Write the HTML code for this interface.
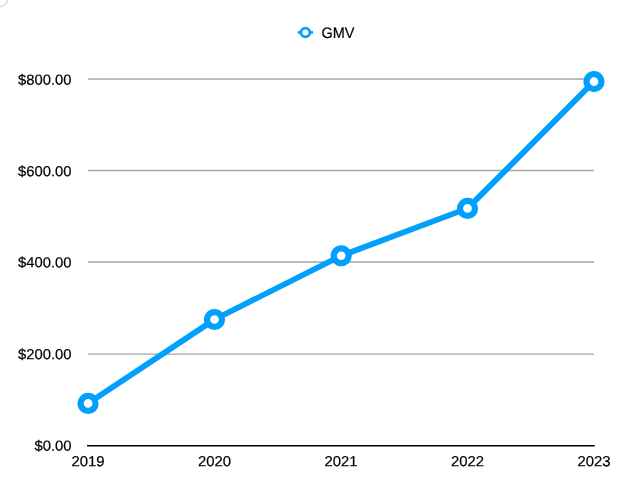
<!DOCTYPE html>
<html>
<head>
<meta charset="utf-8">
<title>GMV</title>
<style>
html,body{margin:0;padding:0;background:#fff;}
body{width:640px;height:495px;overflow:hidden;}
svg{display:block;}
text{font-family:"Liberation Sans",Arial,Helvetica,sans-serif;fill:#000;text-rendering:geometricPrecision;}
</style>
</head>
<body>
<svg width="640" height="495" viewBox="0 0 640 495">
  <rect width="640" height="495" fill="#fff"/>
  <circle cx="-0.9" cy="-1.7" r="8.65" fill="none" stroke="#d2d2d2" stroke-width="1.2"/>
  <!-- gridlines -->
  <g stroke="#a6a6a6" stroke-width="1.4">
    <line x1="88" y1="79" x2="594" y2="79"/>
    <line x1="88" y1="170.5" x2="594" y2="170.5"/>
    <line x1="88" y1="262.05" x2="594" y2="262.05"/>
    <line x1="88" y1="354.1" x2="594" y2="354.1"/>
  </g>
  <line x1="87" y1="445.75" x2="594.8" y2="445.75" stroke="#000" stroke-width="1.5"/>
  <!-- y labels -->
  <g font-size="14.7" text-anchor="end" stroke="#000" stroke-width="0.2">
    <text x="71.5" y="84.85" transform="rotate(0.03 71.5 84.85)" textLength="53.5" lengthAdjust="spacingAndGlyphs">$800.00</text>
    <text x="71.5" y="176.35" transform="rotate(0.03 71.5 176.35)" textLength="53.5" lengthAdjust="spacingAndGlyphs">$600.00</text>
    <text x="71.5" y="267.4" transform="rotate(0.03 71.5 267.4)" textLength="53.5" lengthAdjust="spacingAndGlyphs">$400.00</text>
    <text x="71.5" y="359.35" transform="rotate(0.03 71.5 359.35)" textLength="53.5" lengthAdjust="spacingAndGlyphs">$200.00</text>
    <text x="71.5" y="450.8" transform="rotate(0.03 71.5 450.8)" textLength="37.1" lengthAdjust="spacingAndGlyphs">$0.00</text>
  </g>
  <!-- x labels -->
  <g font-size="14.7" text-anchor="middle" stroke="#000" stroke-width="0.2">
    <text x="88" y="466.15" transform="rotate(0.03 88 466.15)" textLength="33.1" lengthAdjust="spacingAndGlyphs">2019</text>
    <text x="214.5" y="466.15" transform="rotate(0.03 214.5 466.15)" textLength="33.1" lengthAdjust="spacingAndGlyphs">2020</text>
    <text x="341" y="466.15" transform="rotate(0.03 341 466.15)" textLength="33.1" lengthAdjust="spacingAndGlyphs">2021</text>
    <text x="467.5" y="466.15" transform="rotate(0.03 467.5 466.15)" textLength="33.1" lengthAdjust="spacingAndGlyphs">2022</text>
    <text x="594" y="466.15" transform="rotate(0.03 594 466.15)" textLength="33.1" lengthAdjust="spacingAndGlyphs">2023</text>
  </g>
  <!-- legend -->
  <line x1="297.8" y1="32.45" x2="313" y2="32.45" stroke="#00a0fb" stroke-width="2.7"/>
  <circle cx="305.4" cy="32.55" r="4.4" fill="#fff" stroke="#00a0fb" stroke-width="2.7"/>
  <text x="321.4" y="38.1" transform="rotate(0.03 321.4 38.1)" font-size="15.2" textLength="33" lengthAdjust="spacingAndGlyphs" stroke="#000" stroke-width="0.2">GMV</text>
  <!-- series -->
  <polyline points="88.1,403.4 214.5,319.5 341.2,255.75 467.5,208.4 594,81.55" fill="none" stroke="#00a0fb" stroke-width="5.8" stroke-linejoin="round"/>
  <g fill="#fff" stroke="#00a0fb" stroke-width="6.25">
    <circle cx="88.1" cy="403.4" r="7.475"/>
    <circle cx="214.5" cy="319.5" r="7.475"/>
    <circle cx="341.2" cy="255.75" r="7.475"/>
    <circle cx="467.5" cy="208.4" r="7.475"/>
    <circle cx="594" cy="81.55" r="7.475"/>
  </g>
</svg>
</body>
</html>
